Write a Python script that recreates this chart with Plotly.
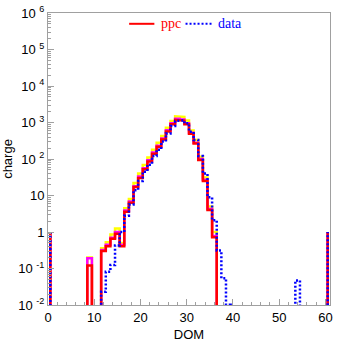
import plotly.graph_objects as go

# DOM number of each histogram bin
dom = list(range(1, 61))

# ppc (red) charge per DOM
ppc = [0, 0, 0, 0, 0, 0, 0, 0, 0.12, 0,
       0, 0.30, 0.41, 0.65, 0.90, 0.41, 3.6, 6.3, 17, 30,
       52, 85, 140, 215, 340, 570, 890, 1180, 1130, 900,
       490, 265, 94, 25, 4.0, 0.72, 0, 0, 0, 0,
       0, 0, 0, 0, 0, 0, 0, 0, 0, 0,
       0, 0, 0, 0, 0, 0, 0, 0, 0, 0]

# magenta variant
ppc_mag = [0, 0, 0, 0, 0, 0, 0, 0, 0.19, 0,
           0, 0.32, 0.45, 0.70, 1.0, 0.45, 3.9, 6.8, 18, 33,
           56, 92, 150, 230, 365, 610, 950, 1260, 1200, 960,
           520, 280, 100, 27, 4.3, 0.78, 0, 0, 0, 0,
           0, 0, 0, 0, 0, 0, 0, 0, 0, 0,
           0, 0, 0, 0, 0, 0, 0, 0, 0, 0]

# yellow variant
ppc_yel = [0, 0, 0, 0, 0, 0, 0, 0, 0.20, 0,
           0, 0.36, 0.52, 0.85, 1.25, 0.5, 4.5, 8, 22, 40,
           68, 110, 180, 280, 430, 720, 1100, 1480, 1420, 1130,
           600, 330, 115, 31, 5.0, 1.0, 0, 0, 0, 0,
           0, 0, 0, 0, 0, 0, 0, 0, 0, 0,
           0, 0, 0, 0, 0, 0, 0, 0, 0, 0]

# data (blue dotted)
data = [0, 0, 0, 0, 0, 0, 0, 0, 0, 0,
        0, 0.023, 0.081, 0.125, 0.43, 1.0, 2.8, 5.7, 14, 25,
        45, 70, 120, 180, 300, 500, 800, 1100, 1150, 950,
        560, 330, 120, 40, 9, 2.1, 0.31, 0.054, 0.0101, 0,
        0, 0, 0, 0, 0, 0, 0, 0, 0, 0,
        0, 0, 0, 0.047, 0, 0, 0, 0, 0, 0]

y_ticks = [1e-2, 1e-1, 1, 10, 100, 1e3, 1e4, 1e5, 1e6]
y_ticktext = ["10 <sup>-2</sup>", "10 <sup>-1</sup>", "1", "10",
              "10 <sup>2</sup>", "10 <sup>3</sup>", "10 <sup>4</sup>",
              "10 <sup>5</sup>", "10 <sup>6</sup>"]
x_ticks = [0, 10, 20, 30, 40, 50, 60]

end_level = 1      # histeps end baseline (log 0)
floor = 1e-6       # zero bins drawn below the visible range


def steps(vals):
    xs = [dom[0] - 0.5]
    ys = [end_level]
    for d, v in zip(dom, vals):
        v = v if v > 0 else floor
        xs += [d - 0.5, d + 0.5]
        ys += [v, v]
    xs.append(dom[-1] + 0.5)
    ys.append(end_level)
    return xs, ys


fig = go.Figure()
for vals, color, dash in [(ppc_yel, "#ffff00", "solid"),
                          (ppc_mag, "#ff00ff", "solid"),
                          (ppc, "#ff0000", "solid"),
                          (data, "#0000ff", "2px,2px")]:
    xs, ys = steps(vals)
    fig.add_trace(go.Scatter(x=xs, y=ys, mode="lines",
                             line=dict(color=color, width=2.5, dash=dash),
                             showlegend=False, hoverinfo="skip"))

minor_y = [k * 10.0 ** e for e in range(-2, 6) for k in range(2, 10)]

axcol = "#a0a0a0"
fig.update_layout(
    width=337, height=344,
    margin=dict(l=48, r=4, t=11, b=37),
    paper_bgcolor="white", plot_bgcolor="white",
    font=dict(family="Liberation Sans, Arial, sans-serif", size=13, color="black"),
    xaxis=dict(range=[0, 61], showgrid=False, zeroline=False,
               showline=True, linecolor=axcol, linewidth=1, mirror=True,
               ticks="inside", ticklen=6, tickcolor=axcol,
               tickmode="array", tickvals=x_ticks,
               tickfont=dict(size=13),
               minor=dict(dtick=2, tick0=0, ticks="inside", ticklen=3, tickcolor=axcol),
               title=dict(text="DOM", standoff=6, font=dict(size=13))),
    yaxis=dict(type="log", range=[-2, 6], showgrid=False, zeroline=False,
               showline=True, linecolor=axcol, linewidth=1, mirror=True,
               ticks="inside", ticklen=6, tickcolor=axcol,
               tickmode="array", tickvals=y_ticks, ticktext=y_ticktext,
               tickfont=dict(size=13),
               minor=dict(tickmode="array", tickvals=minor_y, ticks="inside",
                          ticklen=3, tickcolor=axcol),
               title=dict(text="charge", standoff=4, font=dict(size=13))),
)

# legend drawn in paper coordinates
leg_y = 0.963
fig.add_shape(type="line", xref="paper", yref="paper",
              x0=(130 - 48) / 285, x1=(155.5 - 48) / 285, y0=leg_y, y1=leg_y,
              line=dict(color="#ff0000", width=2))
fig.add_shape(type="line", xref="paper", yref="paper",
              x0=(187 - 48) / 285, x1=(214 - 48) / 285, y0=leg_y, y1=leg_y,
              line=dict(color="#0000ff", width=2, dash="2px,2px"))
fig.add_annotation(xref="paper", yref="paper", x=(160.5 - 48) / 285, y=leg_y,
                   text="ppc", showarrow=False, xanchor="left", yanchor="middle",
                   font=dict(family="Liberation Serif, Times New Roman, serif", size=14, color="#ff0000"))
fig.add_annotation(xref="paper", yref="paper", x=(218 - 48) / 285, y=leg_y,
                   text="data", showarrow=False, xanchor="left", yanchor="middle",
                   font=dict(family="Liberation Serif, Times New Roman, serif", size=14, color="#0000ff"))

fig.write_html("out.html")
